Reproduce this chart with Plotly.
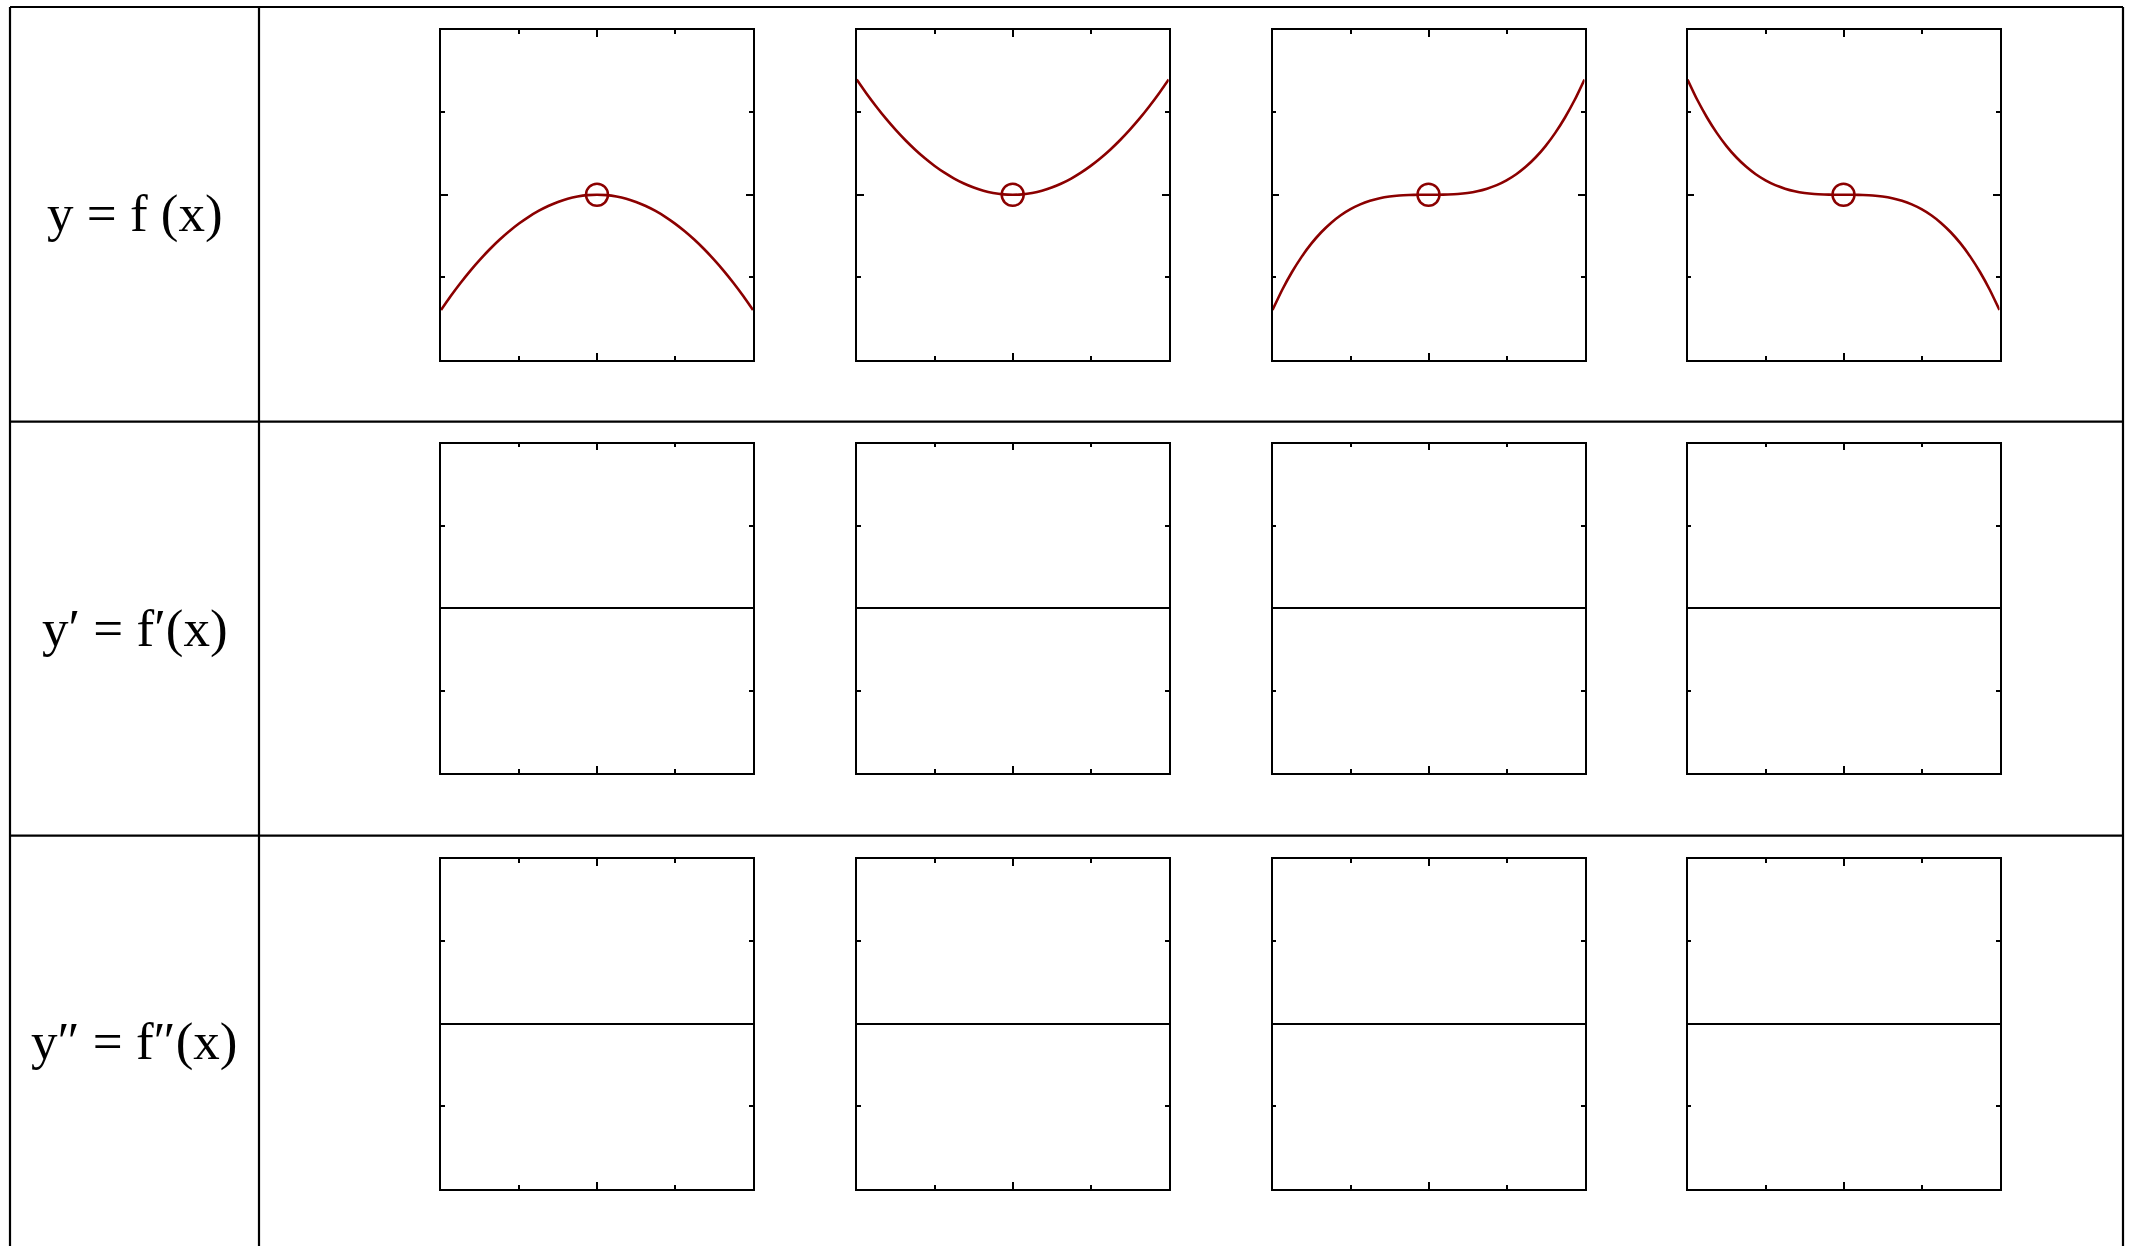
import plotly.graph_objects as go

# ---- data ----
x_vals = [-1.0, -0.9375, -0.875, -0.8125, -0.75, -0.6875, -0.625, -0.5625,
          -0.5, -0.4375, -0.375, -0.3125, -0.25, -0.1875, -0.125, -0.0625, 0.0,
          0.0625, 0.125, 0.1875, 0.25, 0.3125, 0.375, 0.4375, 0.5,
          0.5625, 0.625, 0.6875, 0.75, 0.8125, 0.875, 0.9375, 1.0]
y_max_shape = [-1.400, -1.230, -1.072, -0.924, -0.788, -0.662, -0.547, -0.443,
               -0.350, -0.268, -0.197, -0.137, -0.088, -0.049, -0.022, -0.005, 0.000,
               -0.005, -0.022, -0.049, -0.088, -0.137, -0.197, -0.268, -0.350,
               -0.443, -0.547, -0.662, -0.788, -0.924, -1.072, -1.230, -1.400]
y_min_shape = [1.400, 1.230, 1.072, 0.924, 0.788, 0.662, 0.547, 0.443,
               0.350, 0.268, 0.197, 0.137, 0.088, 0.049, 0.022, 0.005, 0.000,
               0.005, 0.022, 0.049, 0.088, 0.137, 0.197, 0.268, 0.350,
               0.443, 0.547, 0.662, 0.788, 0.924, 1.072, 1.230, 1.400]
y_rise_shape = [-1.400, -1.153, -0.938, -0.751, -0.591, -0.455, -0.342, -0.249,
                -0.175, -0.117, -0.074, -0.043, -0.022, -0.009, -0.003, -0.0003, 0.000,
                0.0003, 0.003, 0.009, 0.022, 0.043, 0.074, 0.117, 0.175,
                0.249, 0.342, 0.455, 0.591, 0.751, 0.938, 1.153, 1.400]
y_fall_shape = [1.400, 1.153, 0.938, 0.751, 0.591, 0.455, 0.342, 0.249,
                0.175, 0.117, 0.074, 0.043, 0.022, 0.009, 0.003, 0.0003, 0.000,
                -0.0003, -0.003, -0.009, -0.022, -0.043, -0.074, -0.117, -0.175,
                -0.249, -0.342, -0.455, -0.591, -0.751, -0.938, -1.153, -1.400]
curves = [y_max_shape, y_min_shape, y_rise_shape, y_fall_shape]
critical_x = [0.0]
critical_y = [0.0]
row_labels = ["y = f (x)", "y\u2032 = f\u2032(x)", "y\u2033 = f\u2033(x)"]

# ---- geometry (pixels in the screenshot) ----
W, H = 2134, 1246
RED = "#8B0000"
col_left = [441, 856.7, 1272.5, 1687.5]
plot_w = 312.0
row_top = [30, 443.5, 859]
plot_h = 329.5

def px(v):
    return v / W

def py(v):
    return 1 - v / H

fig = go.Figure()
layout_axes = {}
for r in range(3):
    for c in range(4):
        k = r * 4 + c + 1
        xa = "x" if k == 1 else f"x{k}"
        ya = "y" if k == 1 else f"y{k}"
        xname = "xaxis" if k == 1 else f"xaxis{k}"
        yname = "yaxis" if k == 1 else f"yaxis{k}"
        common = dict(showline=True, linecolor="black", linewidth=1.8,
                      mirror="ticks", ticks="inside", ticklen=7, tickwidth=1.6,
                      tickcolor="black", showticklabels=False, showgrid=False,
                      fixedrange=True)
        layout_axes[xname] = dict(
            common, domain=[px(col_left[c]), px(col_left[c] + plot_w)],
            range=[-1, 1], tickvals=[0], anchor=ya, zeroline=False,
            minor=dict(tickvals=[-0.5, 0.5], ticks="inside", ticklen=4,
                       tickwidth=1.6, tickcolor="black", showgrid=False))
        layout_axes[yname] = dict(
            common, domain=[py(row_top[r] + plot_h), py(row_top[r])],
            range=[-2, 2], tickvals=[0], anchor=xa,
            zeroline=(r > 0), zerolinecolor="black", zerolinewidth=1.8,
            minor=dict(tickvals=[-1, 1], ticks="inside", ticklen=4,
                       tickwidth=1.6, tickcolor="black", showgrid=False))
        if r == 0:
            fig.add_trace(go.Scatter(x=x_vals, y=curves[c], mode="lines",
                                     line=dict(color=RED, width=2.6, shape="spline",
                                               smoothing=0.6),
                                     xaxis=xa, yaxis=ya, showlegend=False,
                                     hoverinfo="skip"))
            fig.add_trace(go.Scatter(x=critical_x, y=critical_y, mode="markers",
                                     marker=dict(symbol="circle-open", size=22,
                                                 color=RED, line=dict(width=2.5, color=RED)),
                                     xaxis=xa, yaxis=ya, showlegend=False,
                                     hoverinfo="skip"))
        else:
            fig.add_trace(go.Scatter(x=[], y=[], mode="lines", xaxis=xa, yaxis=ya,
                                     showlegend=False))

# ---- table lines ----
shapes = []
top, left, right, divider = 7, 10, 2123, 259
row_lines = [421.7, 835.7]

def seg(x0, y0, x1, y1):
    return dict(type="line", xref="paper", yref="paper",
                x0=px(x0), y0=py(y0), x1=px(x1), y1=py(y1),
                line=dict(color="black", width=2.2))

shapes.append(seg(left, top, right, top))
shapes.append(seg(left, top, left, H + 20))
shapes.append(seg(divider, top, divider, H + 20))
shapes.append(seg(right, top, right, H + 20))
for yl in row_lines:
    shapes.append(seg(left, yl, right, yl))

# ---- row labels ----
label_y = [214, 628.7, 1041.5]
annotations = []
for lab, yy in zip(row_labels, label_y):
    annotations.append(dict(text=lab, x=px((left + divider) / 2), y=py(yy),
                            xref="paper", yref="paper", showarrow=False,
                            xanchor="center", yanchor="middle",
                            font=dict(family="Liberation Serif", size=53, color="black")))

fig.update_layout(width=W, height=H, margin=dict(l=0, r=0, t=0, b=0),
                  paper_bgcolor="white", plot_bgcolor="white",
                  shapes=shapes, annotations=annotations, **layout_axes)

fig.write_html("out.html", config={"displayModeBar": False},
               post_script="document.body.style.margin='0';")
